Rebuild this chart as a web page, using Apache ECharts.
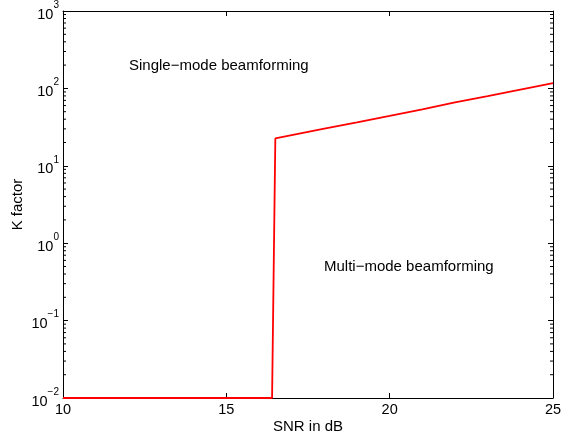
<!DOCTYPE html>
<html><head><meta charset="utf-8">
<script src="https://cdn.jsdelivr.net/npm/echarts@6/dist/echarts.min.js"></script>
<style>html,body{margin:0;padding:0;background:#fff}#c{width:561px;height:443px}</style>
</head><body><div id="c"></div>
<script>
var snr = [10, 16.4, 16.5, 17, 18, 19, 20, 21, 22, 23, 24, 25];
var kFactor = [0.01, 0.01, 22.6, 24.9, 30.2, 36.4, 44.1, 53.7, 66, 79.4, 96.6, 117];
var xTicks = [10, 15, 20, 25];
var yDecades = [-2, -1, 0, 1, 2, 3];
var regionLabels = ['Single\u2212mode beamforming', 'Multi\u2212mode beamforming'];

var FONT = 'Liberation Sans, Arial, Helvetica, sans-serif';
var minorVals = [];
for (var k = -2; k < 3; k++) for (var m = 2; m <= 9; m++) minorVals.push([10, m * Math.pow(10, k)]);

function supLabel(v) {
  var e = Math.round(Math.log10(v));
  var es = (e < 0 ? '\u2212' + (-e) : '' + e);
  return '{b|10}{s|' + es + '}';
}

var chart = echarts.init(document.getElementById('c'));
var yLabelRich = {
  b: {fontSize: 14.5, fontFamily: FONT, color: '#000', verticalAlign: 'bottom', lineHeight: 22},
  s: {fontSize: 10, fontFamily: FONT, color: '#000', verticalAlign: 'top', lineHeight: 22}
};
chart.setOption({
  animation: false,
  grid: {left: 63, right: 8, top: 11, bottom: 45, show: false, outerBoundsMode: 'none', containLabel: false},
  xAxis: [{
    type: 'value', min: 10, max: 25, interval: 5,
    name: 'SNR in dB', nameLocation: 'middle', nameGap: 21, nameMoveOverlap: false,
    nameTextStyle: {fontSize: 15, fontFamily: FONT, color: '#000'},
    axisLine: {show: true, lineStyle: {color: '#000', width: 1}},
    axisTick: {show: true, inside: true, length: 5, lineStyle: {color: '#000'}},
    axisLabel: {fontSize: 14.5, fontFamily: FONT, color: '#000', margin: 4},
    splitLine: {show: false}
  }, {
    type: 'value', min: 10, max: 25, interval: 5, position: 'top',
    axisLine: {show: true, lineStyle: {color: '#000', width: 1}},
    axisTick: {show: true, inside: true, length: 5, lineStyle: {color: '#000'}},
    axisLabel: {show: false}, splitLine: {show: false}
  }],
  yAxis: [{
    type: 'log', min: 0.01, max: 1000, logBase: 10,
    name: 'K factor', nameLocation: 'middle', nameGap: 38, nameRotate: 90, nameMoveOverlap: false,
    nameTextStyle: {fontSize: 15, fontFamily: FONT, color: '#000'},
    axisLine: {show: true, lineStyle: {color: '#000', width: 1}},
    axisTick: {show: true, inside: true, length: 5, lineStyle: {color: '#000'}},
    axisLabel: {formatter: supLabel, rich: yLabelRich, margin: 4, color: '#000'},
    splitLine: {show: false}
  }, {
    type: 'log', min: 0.01, max: 1000, logBase: 10, position: 'right',
    axisLine: {show: true, lineStyle: {color: '#000', width: 1}},
    axisTick: {show: true, inside: true, length: 5, lineStyle: {color: '#000'}},
    axisLabel: {show: false}, splitLine: {show: false}
  }],
  series: [{
    type: 'custom', xAxisIndex: 0, yAxisIndex: 0, clip: false, silent: true,
    data: minorVals,
    renderItem: function (params, api) {
      var v = api.value(1);
      var pl = api.coord([10, v]);
      var pr = api.coord([25, v]);
      return {type: 'group', children: [
        {type: 'line', shape: {x1: pl[0], y1: pl[1], x2: pl[0] + 3, y2: pl[1]}, style: {stroke: '#000', lineWidth: 1}},
        {type: 'line', shape: {x1: pr[0], y1: pr[1], x2: pr[0] - 3, y2: pr[1]}, style: {stroke: '#000', lineWidth: 1}}
      ]};
    }
  }, {
    type: 'line', xAxisIndex: 0, yAxisIndex: 0,
    data: snr.map(function (x, i) { return [x, kFactor[i]]; }),
    showSymbol: false, symbol: 'none', z: 5,
    lineStyle: {color: '#ff0000', width: 1.8}
  }],
  graphic: [
    {type: 'text', left: 129, top: 58, style: {text: regionLabels[0], font: '15px ' + FONT, fill: '#000'}},
    {type: 'text', left: 324, top: 259, style: {text: regionLabels[1], font: '15px ' + FONT, fill: '#000'}}
  ]
});
</script></body></html>
